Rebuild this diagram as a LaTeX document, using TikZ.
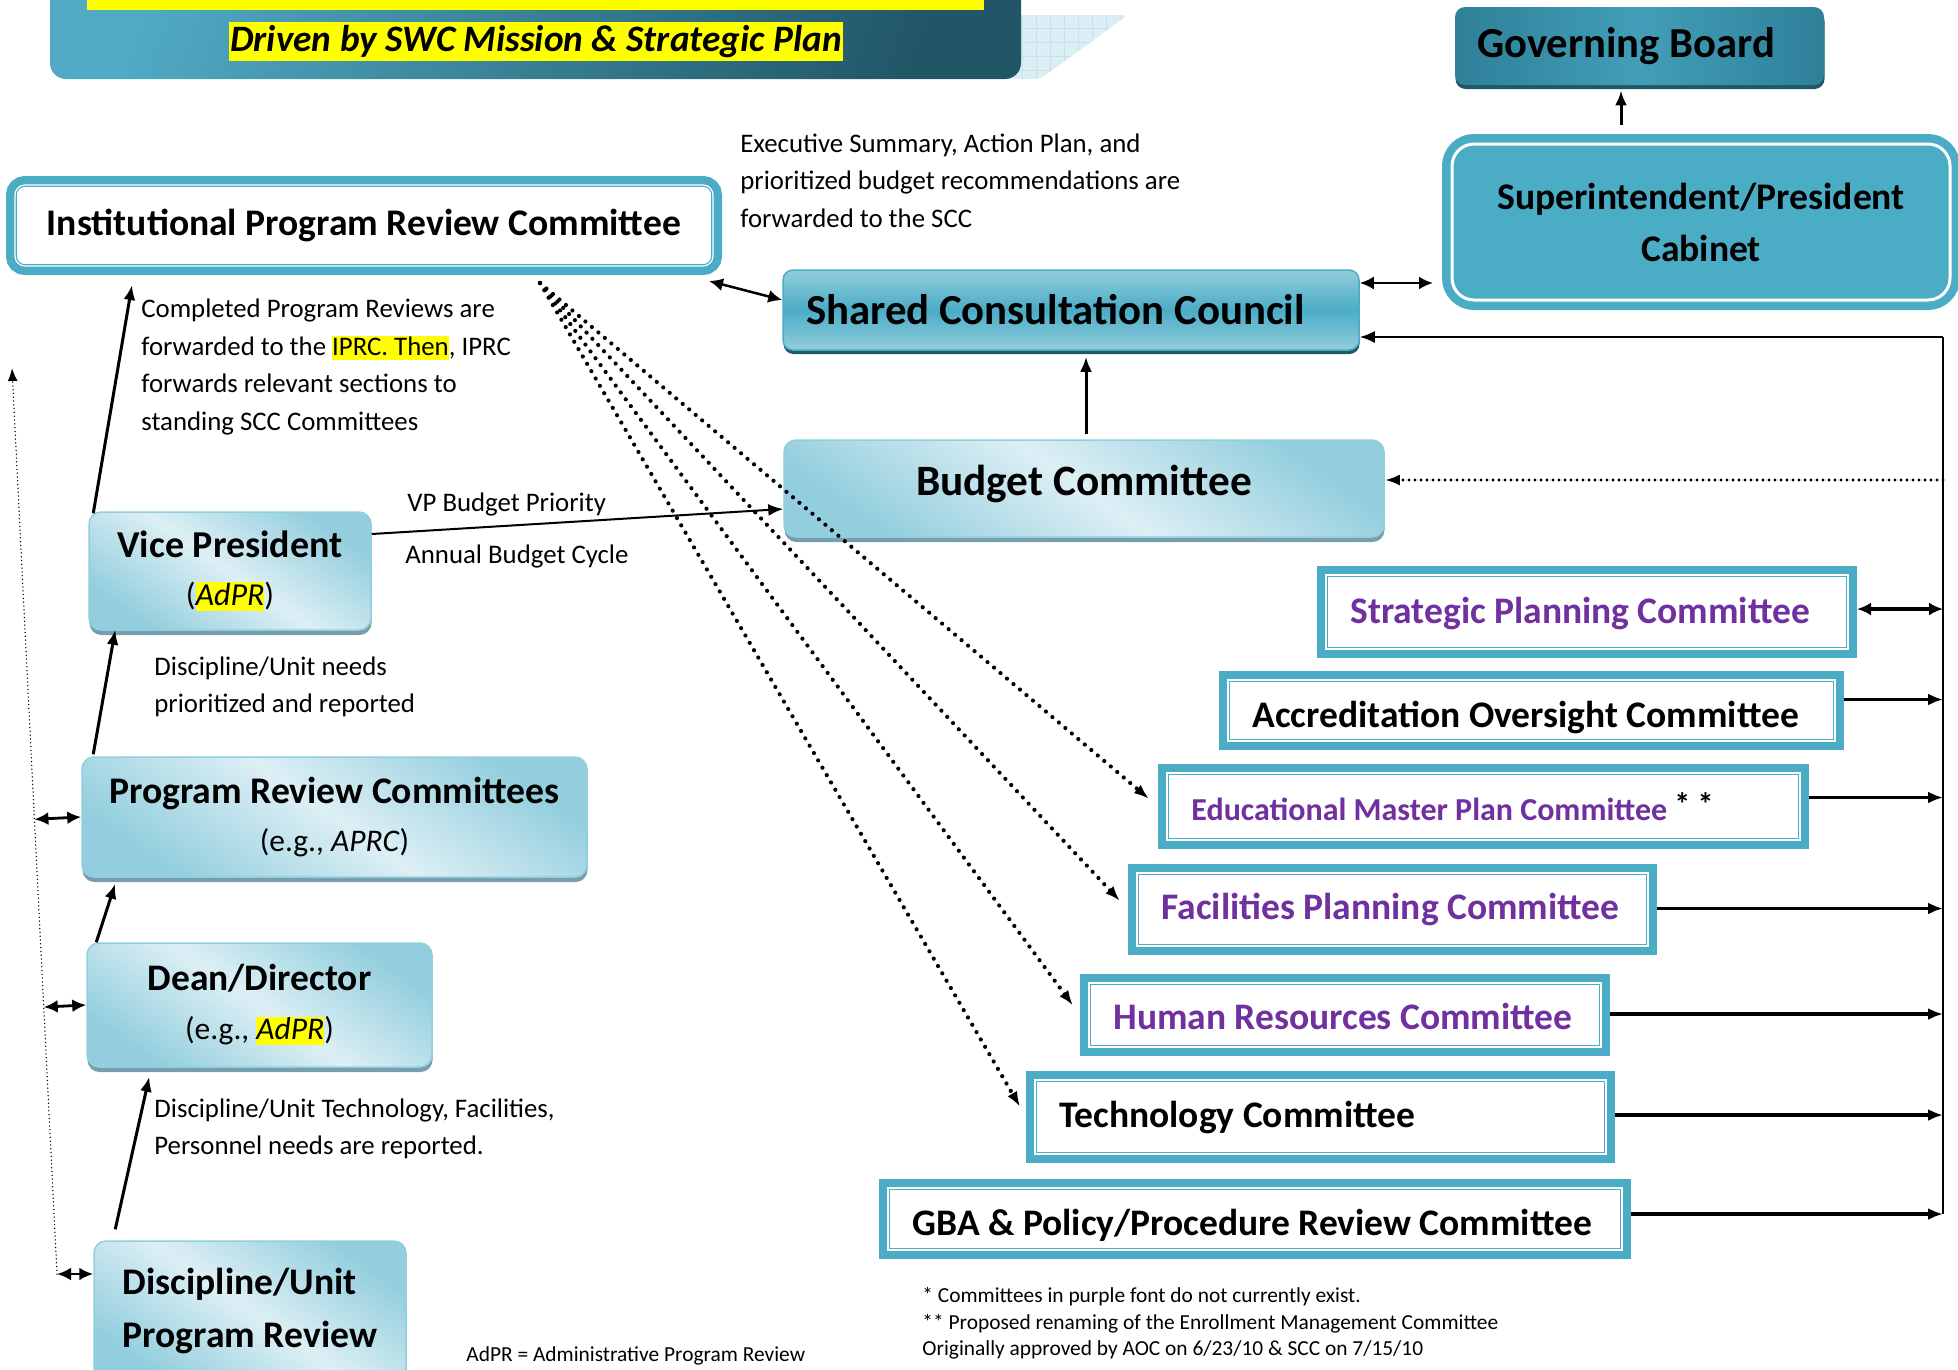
\documentclass[tikz,border=0pt]{standalone}
\usepackage{fontspec}
\setmainfont{Carlito}
\usepackage{tikz}
\usetikzlibrary{calc,positioning,shadows,arrows.meta}
\definecolor{myteal}{RGB}{75,172,198}
\definecolor{mydarkteal}{RGB}{46,128,152}
\definecolor{mygovmid}{RGB}{66,158,184}
\definecolor{mydeepteal}{RGB}{32,88,104}
\definecolor{mylight}{RGB}{221,239,245}
\definecolor{mymid}{RGB}{146,206,221}
\definecolor{myshade}{RGB}{118,158,172}
\definecolor{mypurple}{RGB}{112,48,160}
\definecolor{myyellow}{RGB}{255,255,0}
\definecolor{mybannerA}{RGB}{80,170,196}
\definecolor{mybannerB}{RGB}{33,86,102}
\definecolor{mygrid}{RGB}{219,238,244}
\definecolor{mygridline}{RGB}{196,226,236}

% yellow marker behind a word
\newcommand{\myhl}[1]{{\setlength{\fboxsep}{0pt}\colorbox{myyellow}{\vphantom{Ag(}#1}}}

\begin{document}
\begin{tikzpicture}[
  x=1pt, y=-1pt,
  thick,
  myarrow/.style={-{Latex[length=15pt,width=12pt]}, line width=2.5pt},
  mydblarrow/.style={{Latex[length=14pt,width=13pt]}-{Latex[length=14pt,width=13pt]}, line width=2.8pt},
  mydotarrow/.style={-{Latex[length=15pt,width=11pt]}, line width=4.2pt, line cap=round, dash pattern=on 0pt off 8.5pt},
  mytext/.style={inner sep=0pt, anchor=west, align=flush left, font=\fontsize{26.8}{37.5}\selectfont},
  mynote/.style={inner sep=0pt, anchor=west, align=flush left, font=\fontsize{21.4}{26.5}\selectfont},
  mylight/.style={
    rectangle, rounded corners=12pt, draw=mymid, line width=1.5pt,
    top color=mymid, bottom color=mymid, middle color=mylight, shading angle=-35,
    drop shadow={shadow xshift=0.5pt, shadow yshift=-5pt, fill=myshade, opacity=1},
    align=flush center, inner sep=0pt
  },
  myscc/.style={
    rectangle, rounded corners=10pt, draw=myteal, line width=1.5pt,
    top color=mymid, bottom color=mymid, middle color=myteal,
    drop shadow={shadow xshift=0.5pt, shadow yshift=-4pt, fill=mydeepteal, opacity=1},
    inner xsep=23pt, align=flush left
  },
  mygov/.style={
    rectangle, rounded corners=10pt,
    left color=mydarkteal, right color=mydarkteal, middle color=mygovmid,
    drop shadow={shadow xshift=0.5pt, shadow yshift=-4pt, fill=mydeepteal, opacity=1},
    inner xsep=22pt, align=flush left, font=\fontsize{42.7}{48}\selectfont\bfseries
  },
  mycabinet/.style={
    rectangle, rounded corners=22pt, fill=myteal, draw=white, line width=3pt,
    preaction={draw=myteal, line width=20pt},
    outer sep=10pt, align=flush center, font=\fontsize{37.6}{52}\selectfont\bfseries
  },
  mydouble/.style={
    rectangle,
    preaction={draw=myteal, line width=18pt},
    preaction={fill=white, draw=myteal, line width=3.6pt},
    draw=white, line width=1.2pt,
    outer sep=9pt, inner sep=0pt
  },
  mycommtext/.style={inner sep=0pt, font=\fontsize{37.5}{44}\selectfont\bfseries}
]
\useasboundingbox (0,0) rectangle (1958,1369);

% banner with the plan motto
\begin{scope}
  \clip[rounded corners=6pt] (990,15) -- (1128,15) -- (1040,79) -- (990,79) -- cycle;
  \fill[mygrid] (990,10) rectangle (1130,80);
  \draw[mygridline, line width=0.8pt, step=14pt] (990,10) grid (1130,80);
\end{scope}
\shade[rounded corners=16pt, left color=mybannerA, right color=mybannerB, shading angle=70] (50,-40) rectangle (1021,79);
\fill[myyellow] (87,-5) rectangle (984,10);
\node[fill=myyellow, inner xsep=1pt, inner ysep=3.5pt, font=\fontsize{37.3}{42}\selectfont\bfseries\itshape] (motto) at (536,41.5) {Driven by SWC Mission \& Strategic Plan};

% top of the chain
\node[mygov, minimum width=369pt, minimum height=78pt, text width=325pt] (gov) at (1639.5,46) {Governing Board};
\node[mycabinet, minimum width=498pt, minimum height=156pt] (cab) at (1701,222) {Superintendent/President\\Cabinet};
\node[mydouble, rounded corners=10pt, minimum width=698pt, minimum height=81pt, font=\fontsize{37.6}{44}\selectfont\bfseries] (iprc) at (364,225.5) {Institutional Program Review Committee};
\node[myscc, minimum width=576pt, minimum height=80pt, text width=530pt, font=\fontsize{42.8}{48}\selectfont\bfseries] (scc) at (1071,310) {Shared Consultation Council};
\node[mylight, minimum width=600pt, minimum height=97pt, text depth=16pt, font=\fontsize{43.3}{48}\selectfont\bfseries] (budget) at (1084,488.5) {Budget Committee};

% left column
\node[mylight, minimum width=282pt, minimum height=118pt, font=\fontsize{32}{48}\selectfont] (vp) at (230,571)
  {{\fontsize{38}{48}\selectfont\bfseries Vice President}\\(\myhl{\itshape AdPR})};
\node[mylight, minimum width=505pt, minimum height=120pt, font=\fontsize{31.5}{48}\selectfont] (prc) at (334.5,817)
  {{\fontsize{37.6}{48}\selectfont\bfseries Program Review Committees}\\(e.g., \textit{APRC})};
\node[mylight, minimum width=345pt, minimum height=124pt, font=\fontsize{31.5}{49}\selectfont] (dean) at (259.5,1005)
  {{\fontsize{37.5}{49}\selectfont\bfseries Dean/Director}\\(e.g., \myhl{\itshape AdPR})};
\node[mylight, minimum width=312pt, minimum height=139pt, align=flush left, font=\fontsize{37.6}{53}\selectfont\bfseries] (du) at (250,1310.5)
  {Discipline/Unit\\Program Review};

% standing committees
\node[mydouble, minimum width=522pt, minimum height=74pt] (spc) at (1587,612) {};
\node[mydouble, minimum width=607pt, minimum height=61pt] (aoc) at (1531.5,710.5) {};
\node[mydouble, minimum width=633pt, minimum height=67pt] (empc) at (1483.5,806.5) {};
\node[mydouble, minimum width=511pt, minimum height=73pt] (fpc) at (1392.5,909.5) {};
\node[mydouble, minimum width=512pt, minimum height=64pt] (hrc) at (1345,1015) {};
\node[mydouble, minimum width=571pt, minimum height=74pt] (tc) at (1320.5,1117) {};
\node[mydouble, minimum width=734pt, minimum height=62pt] (gba) at (1255,1219) {};

\foreach \n/\c/\s/\t in {spc/mypurple/-2/{Strategic Planning Committee},
                         aoc/black/-7/{Accreditation Oversight Committee},
                         fpc/mypurple/0/{Facilities Planning Committee},
                         hrc/mypurple/-1/{Human Resources Committee},
                         tc/black/0/{Technology Committee},
                         gba/black/-6/{GBA \& Policy/Procedure Review Committee}}
  \node[mycommtext, text=\c, right=33pt of \n.west, yshift=\s pt] (\n-t) {\t};
\node[mycommtext, right=33pt of empc.west, font=\fontsize{32}{40}\selectfont\bfseries] (empc-t)
  {\textcolor{mypurple}{Educational Master Plan Committee} \raisebox{5pt}{* *}};

% right-hand bus
\coordinate (bustop) at (1943,337);
\coordinate (busbot) at (1943,1214);
\draw[line width=2.5pt] (bustop) -- (busbot);
\draw[myarrow, line width=2pt] (bustop) -- (bustop -| scc.east);
\draw[mydotarrow, line width=3.2pt, dash pattern=on 0pt off 6pt] ($(budget.east -| bustop)+(0,-8.5)$) -- ($(budget.east)+(0,-8.5)$);
\draw[mydblarrow, line width=3.5pt] ($(spc.east)+(0,-3)$) -- ($(spc.east -| bustop)+(0,-3)$);
\foreach \n/\dy in {aoc/-11, empc/-9, fpc/-1, hrc/-1, tc/-2, gba/-5}
  \draw[myarrow, line width=3.5pt] ($(\n.east)+(0,\dy)$) -- ($(\n.east -| bustop)+(0,\dy)$);

% review results handed to the committees
\coordinate (fan) at (540,283);
\foreach \n in {empc,fpc,hrc,tc}
  \draw[mydotarrow, shorten >=12pt] (fan) -- (\n.west);

% upward flow
\draw[myarrow, line width=3pt] ($(vp.north west)+(5,2)$) -- ($(iprc.south west)+(126,10)$);
\draw[myarrow, line width=2pt] ($(vp.east)+(0,-37)$) -- ($(budget.west)+(0,20.5)$);
\draw[myarrow, line width=3pt] ($(prc.north west)+(12,-2)$) -- ($(vp.south west)+(27,-1)$);
\draw[myarrow, line width=3pt] ($(dean.north west)+(10,0)$) -- ($(prc.south west)+(34,6)$);
\draw[myarrow, line width=3pt] ($(du.north west)+(22,-11)$) -- ($(dean.south west)+(63,9)$);
\draw[mydblarrow, line width=2.5pt] ($(iprc.south east)+(-13,6)$) -- ($(scc.west)+(0,-10)$);
\draw[mydblarrow, line width=2.5pt] ($(scc.east)+(0,-27)$) -- ($(cab.west)+(-9,61)$);
\draw[myarrow, line width=3pt] ($(budget.north)+(2,-5)$) -- ($(scc.south)+(15,6)$);
\draw[myarrow, line width=3pt] ($(cab.north)+(-80,-9)$) -- ($(gov.south)+(-18.5,5)$);

% dotted return line on the left
\coordinate (dotbot) at (57,1274);
\coordinate (dottop) at (12,368);
\draw[-{Latex[length=13pt,width=10pt]}, line width=1.5pt, line cap=round, dash pattern=on 0pt off 3.8pt] (dotbot) -- (dottop);
\draw[mydblarrow] ($(dottop)!(prc.west)!(dotbot)$) -- (prc.west);
\draw[mydblarrow] ($(dottop)!(dean.west)!(dotbot)$) -- (dean.west);
\draw[mydblarrow] (dotbot) -- ($(du.west)+(0,-36.5)$);

% notes
\node[mytext] (execnote) at (740,180.5) {Executive Summary, Action Plan, and\\prioritized budget recommendations are\\forwarded to the SCC};
\node[mytext] (iprcnote) at (141,367) {Completed Program Reviews are\\forwarded to the \myhl{IPRC. Then}, IPRC\\forwards relevant sections to\\standing SCC Committees};
\node[mytext] (vpnote) at (407,504) {VP Budget Priority};
\node[mytext] (cyclenote) at (405,556) {Annual Budget Cycle};
\node[mytext] (needsnote) at (154,687) {Discipline/Unit needs\\prioritized and reported};
\node[mytext] (deannote) at (154,1129) {Discipline/Unit Technology, Facilities,\\Personnel needs are reported.};
\node[mynote] (footnote) at (922,1323.5) {* Committees in purple font do not currently exist.\\** Proposed renaming of the Enrollment Management Committee\\Originally approved by AOC on 6/23/10 \& SCC on 7/15/10};
\node[mynote] (adprnote) at (466,1356) {AdPR = Administrative Program Review};

\end{tikzpicture}
\end{document}
